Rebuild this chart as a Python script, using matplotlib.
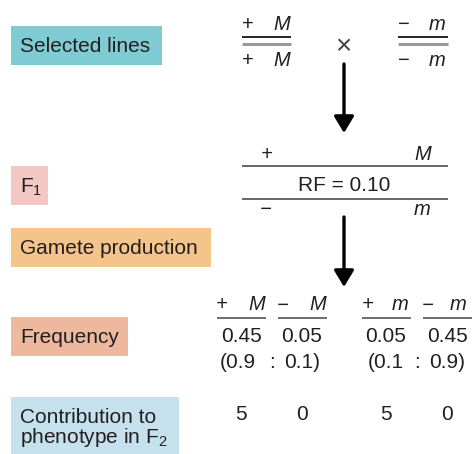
import matplotlib
matplotlib.use('Agg')
import matplotlib.pyplot as plt
from matplotlib.patches import Rectangle

plt.rcParams['font.family'] = ['Liberation Sans', 'DejaVu Sans']
plt.rcParams['mathtext.fontset'] = 'custom'
plt.rcParams['mathtext.rm'] = 'Liberation Sans'
plt.rcParams['mathtext.it'] = 'Liberation Sans:italic'

# row labels and their box colours
row_labels = ['Selected lines', 'F$_{\\mathregular{1}}$', 'Gamete production', 'Frequency',
              'Contribution to\nphenotype in F$_{\\mathregular{2}}$']
row_colors = ['#7ecbd3', '#f2c7c4', '#f5c48b', '#edb89d', '#c6e1ee']

# parental lines and F1
parent_left = ['+', 'M']
parent_right = ['\u2212', 'm']
f1_top = ['+', 'M']
f1_bottom = ['\u2212', 'm']
rf_label = 'RF = 0.10'

# gametes
gamete_alleles = [('+', 'M'), ('\u2212', 'M'), ('+', 'm'), ('\u2212', 'm')]
gamete_freq = ['0.45', '0.05', '0.05', '0.45']
ratio_left = ['(0.9', '0.1)']
ratio_right = ['(0.1', '0.9)']
contribution = ['5', '0', '5', '0']

ink = '#231f20'

fig = plt.figure(figsize=(4.75, 4.54), dpi=100)
ax = fig.add_axes([0, 0, 1, 1])
ax.set_xlim(0, 475)
ax.set_ylim(454, 0)
ax.axis('off')

# label boxes: (x0, y0, x1, y1), text baseline
boxes = [(11, 26, 162, 65), (11, 166, 48, 205), (11, 228, 211, 267),
         (11, 317, 128, 356), (11, 397, 179, 454)]
text_y = [52, 193, 254, 343, 443]
for (x0, y0, x1, y1), lab, col, ty in zip(boxes, row_labels, row_colors, text_y):
    ax.add_patch(Rectangle((x0, y0), x1 - x0, y1 - y0, facecolor=col, edgecolor='none'))
    if '\n' in lab:
        l1, l2 = lab.split('\n')
        ax.text(20.5, ty - 20, l1, fontsize=15, color=ink, va='baseline', ha='left')
        ax.text(20.5, ty, l2, fontsize=15, color=ink, va='baseline', ha='left')
    else:
        ax.text(20.5, ty, lab, fontsize=15, color=ink, va='baseline', ha='left')

gfs = 14.5

# selected lines
for (sx, mx, x0, x1), alle in [((248, 282, 241.5, 291), parent_left),
                               ((404, 437, 398, 448), parent_right)]:
    for by in (29.5, 65.5):
        ax.text(sx, by, alle[0], fontsize=gfs, color=ink, ha='center', va='baseline')
        ax.text(mx, by, alle[1], fontsize=gfs, color=ink, ha='center', va='baseline', style='italic')
    ax.plot([x0, x1], [37, 37], color='black', lw=1.2, solid_capstyle='butt')
    ax.plot([x0, x1], [44, 44], color='#9a9a9a', lw=2.2, solid_capstyle='butt')
ax.text(343.5, 54.5, '\u00d7', fontsize=20, color='#444444', ha='center', va='baseline')

# arrows
for y0, y1 in [(64, 133), (217, 287)]:
    ax.annotate('', xy=(344, y1), xytext=(344, y0),
                arrowprops=dict(arrowstyle='-|>,head_length=1.0,head_width=0.6',
                                color='black', lw=2.4, shrinkA=0, shrinkB=0))

# F1
ax.text(267, 160, f1_top[0], fontsize=gfs, color=ink, ha='center', va='baseline', style='italic')
ax.text(423, 160, f1_top[1], fontsize=gfs, color=ink, ha='center', va='baseline', style='italic')
ax.text(266, 215, f1_bottom[0], fontsize=gfs, color=ink, ha='center', va='baseline', style='italic')
ax.text(422, 215, f1_bottom[1], fontsize=gfs, color=ink, ha='center', va='baseline', style='italic')
for ly in (166, 199):
    ax.plot([241.5, 448], [ly, ly], color='#666666', lw=1.4, solid_capstyle='butt')
ax.text(344.5, 191, rf_label, fontsize=15, color=ink, ha='center', va='baseline')

# gametes
col_x = [241, 302, 386, 447]
sign_x = [222, 283, 368, 428]
let_x = [257, 318, 400, 458]
for cx, sx, lx, (s, l), fq, c in zip(col_x, sign_x, let_x, gamete_alleles, gamete_freq, contribution):
    ax.text(sx, 310.5, s, fontsize=gfs, color=ink, ha='center', va='baseline', style='italic')
    ax.text(lx, 310.5, l, fontsize=gfs, color=ink, ha='center', va='baseline', style='italic')
    ax.plot([cx - 24.5, cx + 24.5], [317.5, 317.5], color='#555555', lw=1.2, solid_capstyle='butt')
    ax.text(cx, 341.5, fq, fontsize=15, color=ink, ha='center', va='baseline')
    ax.text(cx, 420, c, fontsize=15, color=ink, ha='center', va='baseline')

for (xa, xc, xb), r in [((238, 272, 302), ratio_left), ((386, 416.5, 447.5), ratio_right)]:
    ax.text(xa, 367.5, r[0], fontsize=15, color=ink, ha='center', va='baseline')
    ax.text(xc, 367.5, ':', fontsize=15, color=ink, ha='center', va='baseline')
    ax.text(xb, 367.5, r[1], fontsize=15, color=ink, ha='center', va='baseline')

fig.savefig('out.png', dpi=100)
